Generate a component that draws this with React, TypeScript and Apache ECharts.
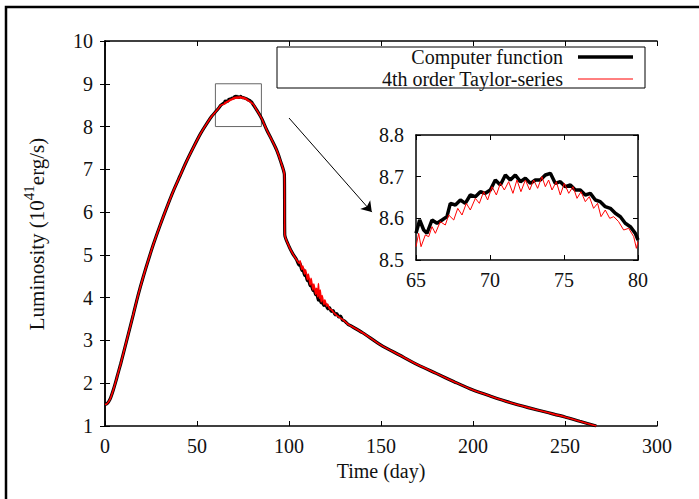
import React, { useEffect, useRef } from "react";
import * as echarts from "echarts";

// ---------- data (time in days, luminosity in 1e41 erg/s) ----------
const riseT = [0, 1, 2, 3, 4.5, 6, 7, 8.5, 10, 12.5, 15.4, 18, 20.8, 24, 26.3, 30, 33.5, 37, 40.8, 44, 48, 52, 55.3, 58, 60, 61.6, 63];
const riseL = [1.5, 1.52, 1.57, 1.65, 1.84, 2.06, 2.22, 2.45, 2.7, 3.12, 3.61, 4.06, 4.49, 4.94, 5.25, 5.7, 6.1, 6.48, 6.85, 7.16, 7.51, 7.84, 8.07, 8.24, 8.34, 8.42, 8.5];

const peakBlackT = [65.0, 65.25, 65.52, 65.74, 66.08, 66.42, 66.76, 67.09, 67.32, 67.66, 68.0, 68.33, 68.67, 69.01, 69.35, 69.68, 70.02, 70.36, 70.7, 71.04, 71.37, 71.71, 72.05, 72.39, 72.73, 73.06, 73.4, 73.74, 74.08, 74.41, 74.75, 75.09, 75.43, 75.77, 76.1, 76.44, 76.78, 77.12, 77.45, 77.79, 78.13, 78.47, 78.81, 79.14, 79.48, 79.82, 80.0];
const peakBlackL = [8.564, 8.596, 8.572, 8.564, 8.596, 8.588, 8.596, 8.604, 8.636, 8.632, 8.644, 8.636, 8.656, 8.652, 8.664, 8.66, 8.668, 8.692, 8.68, 8.704, 8.692, 8.704, 8.688, 8.696, 8.684, 8.692, 8.692, 8.704, 8.708, 8.684, 8.688, 8.676, 8.68, 8.668, 8.668, 8.656, 8.66, 8.644, 8.64, 8.628, 8.624, 8.612, 8.604, 8.588, 8.58, 8.564, 8.548];

const peakRedT = [65.0, 65.18, 65.34, 65.63, 65.86, 66.08, 66.31, 66.64, 66.98, 67.21, 67.55, 67.82, 68.11, 68.4, 68.67, 69.01, 69.28, 69.57, 69.84, 70.14, 70.43, 70.7, 70.97, 71.26, 71.55, 71.82, 72.09, 72.39, 72.68, 72.95, 73.22, 73.51, 73.74, 73.96, 74.19, 74.48, 74.75, 75.02, 75.32, 75.61, 75.88, 76.15, 76.44, 76.71, 77.0, 77.27, 77.5, 77.79, 78.09, 78.36, 78.69, 79.03, 79.37, 79.71, 79.89, 80.0];
const peakRedL = [8.532, 8.564, 8.532, 8.56, 8.556, 8.58, 8.564, 8.592, 8.584, 8.608, 8.596, 8.624, 8.608, 8.636, 8.62, 8.648, 8.636, 8.664, 8.644, 8.676, 8.656, 8.684, 8.668, 8.688, 8.66, 8.692, 8.664, 8.692, 8.668, 8.692, 8.672, 8.7, 8.676, 8.692, 8.668, 8.688, 8.656, 8.684, 8.66, 8.676, 8.648, 8.664, 8.64, 8.652, 8.624, 8.636, 8.604, 8.62, 8.6, 8.604, 8.592, 8.572, 8.576, 8.556, 8.528, 8.544];

const fallT = [82.4, 85, 87.9, 90.5, 93.3, 95.5, 97.5, 97.7, 100, 102];
const fallL = [8.39, 8.2, 7.92, 7.7, 7.45, 7.18, 6.87, 5.47, 5.2, 5.03];

const noiseBlackT = [104.2, 105.5, 106, 107, 107.5, 108.5, 109, 110, 110.5, 111.5, 112, 113, 113.5, 114.5, 115, 116, 116.5, 117.5, 118, 119, 120, 121, 122, 123, 124, 125, 126, 127, 128, 129, 130, 131, 132];
const noiseBlackL = [4.88, 4.76, 4.8, 4.64, 4.68, 4.52, 4.56, 4.4, 4.44, 4.28, 4.32, 4.17, 4.22, 4.07, 4.11, 3.94, 3.99, 3.88, 3.92, 3.82, 3.84, 3.74, 3.77, 3.68, 3.7, 3.6, 3.63, 3.55, 3.57, 3.48, 3.46, 3.42, 3.38];

const noiseRedT = [104.2, 105.5, 106, 107, 107.5, 108.5, 109, 110, 110.5, 111.5, 112, 113, 113.5, 114.5, 115, 115.6, 116, 116.5, 117, 117.5, 118, 119, 119.5, 120.5, 121, 122, 123, 125, 127, 129, 131, 132];
const noiseRedL = [4.88, 4.8, 4.86, 4.66, 4.74, 4.55, 4.65, 4.42, 4.55, 4.3, 4.45, 4.18, 4.32, 4.08, 4.22, 4.02, 4.33, 3.98, 4.18, 3.9, 4.05, 3.84, 3.95, 3.8, 3.85, 3.74, 3.72, 3.62, 3.55, 3.49, 3.42, 3.38];

const tailT = [133.2, 140, 150, 160, 170, 180, 190, 200, 210, 220, 230, 240, 250, 258, 267];
const tailL = [3.35, 3.18, 2.89, 2.66, 2.43, 2.23, 2.03, 1.84, 1.69, 1.55, 1.43, 1.32, 1.21, 1.11, 1.0];

const zoomBoxT = [60, 85, 85, 60, 60];
const zoomBoxL = [8, 8, 9, 9, 8];
const arrowStart = [100, 8.2];
const arrowEnd = [145, 6.0];

const seriesNames = ["Computer function", "4th order Taylor-series"];

const zip = (t: number[], l: number[]) => t.map((v, i) => [v, l[i]]);

const FONT = '"Liberation Serif", "Times New Roman", serif';

export default function App() {
  const ref = useRef<HTMLDivElement>(null);
  useEffect(() => {
    if (!ref.current) return;
    const chart = echarts.init(ref.current, null, { renderer: "svg" });

    const black = [
      ...zip(riseT, riseL),
      ...zip(peakBlackT, peakBlackL),
      ...zip(fallT, fallL),
      ...zip(noiseBlackT, noiseBlackL),
      ...zip(tailT, tailL),
    ];
    const red = [
      ...zip(riseT, riseL),
      ...zip(peakRedT, peakRedL),
      ...zip(fallT, fallL),
      ...zip(noiseRedT, noiseRedL),
      ...zip(tailT, tailL),
    ];

    const axisLine = { show: true, lineStyle: { color: "#000", width: 1.5 } };
    const tick = { show: true, inside: true, length: 5, lineStyle: { color: "#000", width: 1 } };
    const label = { color: "#111", fontFamily: FONT, fontSize: 20 };

    const mainX = { min: 0, max: 300, interval: 50 };
    const mainY = { min: 1, max: 10, interval: 1 };
    const insX = { min: 65, max: 80, interval: 5 };
    const insY = { min: 8.5, max: 8.8, interval: 0.1 };

    chart.setOption({
      animation: false,
      backgroundColor: "#fff",
      grid: [
        { left: 105, top: 41, width: 552, height: 385, containLabel: false },
        { left: 416, top: 135, width: 222, height: 125, containLabel: false },
      ],
      xAxis: [
        { type: "value", gridIndex: 0, position: "bottom", ...mainX, axisLine, axisTick: tick, splitLine: { show: false }, axisLabel: { ...label, margin: 10 } },
        { type: "value", gridIndex: 0, position: "top", ...mainX, axisLine, axisTick: tick, splitLine: { show: false }, axisLabel: { show: false } },
        { type: "value", gridIndex: 1, position: "bottom", ...insX, axisLine, axisTick: tick, splitLine: { show: false }, axisLabel: { ...label, margin: 10 } },
        { type: "value", gridIndex: 1, position: "top", ...insX, axisLine, axisTick: tick, splitLine: { show: false }, axisLabel: { show: false } },
      ],
      yAxis: [
        { type: "value", gridIndex: 0, position: "left", ...mainY, axisLine, axisTick: tick, splitLine: { show: false }, axisLabel: { ...label, margin: 12 } },
        { type: "value", gridIndex: 0, position: "right", ...mainY, axisLine, axisTick: tick, splitLine: { show: false }, axisLabel: { show: false } },
        { type: "value", gridIndex: 1, position: "left", ...insY, axisLine, axisTick: tick, splitLine: { show: false }, axisLabel: { ...label, margin: 12, formatter: (v: number) => v.toFixed(1) } },
        { type: "value", gridIndex: 1, position: "right", ...insY, axisLine, axisTick: tick, splitLine: { show: false }, axisLabel: { show: false } },
      ],
      series: [
        {
          name: "zoombox",
          type: "line",
          xAxisIndex: 0,
          yAxisIndex: 0,
          data: zip(zoomBoxT, zoomBoxL),
          showSymbol: false,
          lineStyle: { color: "#666", width: 1 },
          silent: true,
          markLine: {
            silent: true,
            symbol: ["none", "arrow"],
            symbolSize: 10,
            label: { show: false },
            lineStyle: { color: "#000", width: 1, type: "solid" },
            data: [[{ coord: arrowStart }, { coord: arrowEnd }]],
          },
        },
        {
          name: seriesNames[0],
          type: "line",
          xAxisIndex: 0,
          yAxisIndex: 0,
          data: black,
          showSymbol: false,
          smooth: 0.25,
          lineStyle: { color: "#000", width: 3.2 },
        },
        {
          name: seriesNames[1],
          type: "line",
          xAxisIndex: 0,
          yAxisIndex: 0,
          data: red,
          showSymbol: false,
          smooth: 0.25,
          lineStyle: { color: "#ff0000", width: 1.6 },
        },
        {
          name: seriesNames[0] + " inset",
          type: "line",
          xAxisIndex: 2,
          yAxisIndex: 2,
          data: zip(peakBlackT, peakBlackL),
          showSymbol: false,
          lineStyle: { color: "#000", width: 3.5 },
        },
        {
          name: seriesNames[1] + " inset",
          type: "line",
          xAxisIndex: 2,
          yAxisIndex: 2,
          data: zip(peakRedT, peakRedL),
          showSymbol: false,
          lineStyle: { color: "#ff0000", width: 1 },
        },
      ],
      graphic: [
        { type: "rect", shape: { x: 6, y: 7, width: 760, height: 560 }, style: { fill: "none", stroke: "#000", lineWidth: 2.5 }, silent: true },
        { type: "rect", shape: { x: 277, y: 47, width: 368, height: 41 }, style: { fill: "none", stroke: "#000", lineWidth: 1 }, silent: true },
        { type: "text", x: 563, y: 57, style: { text: seriesNames[0], font: `20px ${FONT}`, fill: "#111", textAlign: "right", textVerticalAlign: "middle", align: "right", verticalAlign: "middle" } },
        { type: "line", shape: { x1: 578, y1: 57, x2: 633, y2: 57 }, style: { stroke: "#000", lineWidth: 3.5 } },
        { type: "text", x: 563, y: 79, style: { text: seriesNames[1], font: `20px ${FONT}`, fill: "#111", textAlign: "right", textVerticalAlign: "middle", align: "right", verticalAlign: "middle" } },
        { type: "line", shape: { x1: 578, y1: 79, x2: 633, y2: 79 }, style: { stroke: "#ff0000", lineWidth: 1 } },
        { type: "text", x: 381, y: 471, style: { text: "Time (day)", font: `20px ${FONT}`, fill: "#111", textAlign: "center", textVerticalAlign: "middle", align: "center", verticalAlign: "middle" } },
        {
          type: "text",
          x: 34,
          y: 234,
          rotation: Math.PI / 2,
          style: {
            text: "{n|Luminosity (10}{s|41}{n|erg/s)}",
            fill: "#111",
            textAlign: "center",
            textVerticalAlign: "middle",
            align: "center",
            verticalAlign: "middle",
            rich: {
              n: { fontSize: 21, fontFamily: FONT, fill: "#111", lineHeight: 26, verticalAlign: "bottom" },
              s: { fontSize: 15, fontFamily: FONT, fill: "#111", lineHeight: 15, verticalAlign: "top" },
            },
          },
        },
      ],
    });
    return () => chart.dispose();
  }, []);
  return (
    <div style={{ position: "absolute", left: 0, top: 0, width: 699, height: 499, background: "#fff" }}>
      <div ref={ref} style={{ width: 699, height: 499 }} />
    </div>
  );
}
